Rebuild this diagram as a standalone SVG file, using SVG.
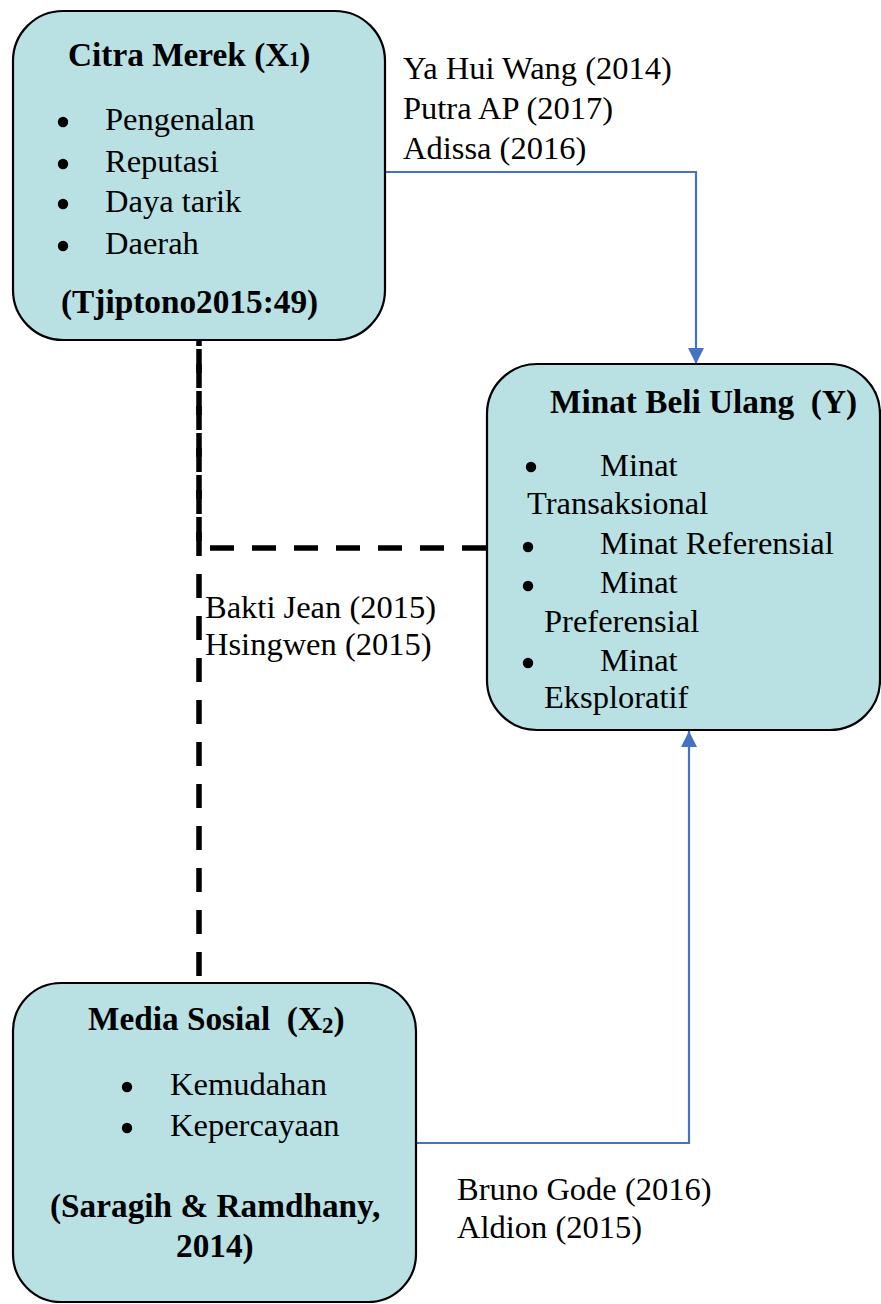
<svg xmlns="http://www.w3.org/2000/svg" width="881" height="1304" viewBox="0 0 881 1304">
<style>
.box{fill:#b9e0e3;stroke:#000;stroke-width:2.2}
.t{font-family:"Liberation Serif","Times New Roman",serif;font-size:32.5px;fill:#000}
.b{font-weight:bold;font-size:33.3px}
.blt{fill:#000}
.blue{fill:none;stroke:#4472c4;stroke-width:2.2}
.dash{fill:none;stroke:#000;stroke-width:5.5;stroke-dasharray:24 18}
</style>
<defs>
<marker id="ah" viewBox="0 0 16 16" refX="16" refY="8" markerWidth="16" markerHeight="16" markerUnits="userSpaceOnUse" orient="auto">
<path d="M0,0 L16,8 L0,16 Z" fill="#4472c4"/>
</marker>
</defs>
<g id="connectors">
<path class="dash" d="M199,340 L199,983" stroke-dashoffset="18"/>
<path class="dash" d="M486,548 L199,548 L199,340"/>
<path class="blue" d="M385,172 L696,172 L696,364" marker-end="url(#ah)"/>
<path class="blue" d="M417,1143 L689,1143 L689,731" marker-end="url(#ah)"/>
</g>
<g id="citra-merek">
<rect class="box" x="13" y="11" width="372" height="329" rx="50"/>
<text class="t b" x="68" y="66">Citra Merek (X<tspan font-size="20">1</tspan>)</text>
<circle class="blt" cx="63" cy="122" r="5.2"/>
<circle class="blt" cx="63" cy="164" r="5.2"/>
<circle class="blt" cx="63" cy="204" r="5.2"/>
<circle class="blt" cx="63" cy="246" r="5.2"/>
<text class="t" x="105" y="130">Pengenalan</text>
<text class="t" x="105" y="172">Reputasi</text>
<text class="t" x="105" y="212">Daya tarik</text>
<text class="t" x="105" y="254">Daerah</text>
<text class="t b" x="61" y="313">(Tjiptono2015:49)</text>
</g>
<g id="minat-beli-ulang">
<rect class="box" x="487" y="364" width="393" height="366" rx="50"/>
<text class="t b" x="550" y="413" style="white-space:pre">Minat Beli Ulang  (Y)</text>
<circle class="blt" cx="531" cy="467" r="5.2"/>
<circle class="blt" cx="528" cy="547" r="5.2"/>
<circle class="blt" cx="528" cy="586" r="5.2"/>
<circle class="blt" cx="528" cy="663" r="5.2"/>
<text class="t" x="600" y="476">Minat</text>
<text class="t" x="527" y="514">Transaksional</text>
<text class="t" x="600" y="554">Minat Referensial</text>
<text class="t" x="600" y="593">Minat</text>
<text class="t" x="544" y="632">Preferensial</text>
<text class="t" x="600" y="671">Minat</text>
<text class="t" x="544" y="708">Eksploratif</text>
</g>
<g id="media-sosial">
<rect class="box" x="13" y="983" width="403" height="319" rx="48"/>
<text class="t b" x="88" y="1030" style="white-space:pre">Media Sosial  (X<tspan font-size="23" dy="3">2</tspan><tspan dy="-3">)</tspan></text>
<circle class="blt" cx="127" cy="1087" r="5.2"/>
<circle class="blt" cx="127" cy="1128" r="5.2"/>
<text class="t" x="170" y="1095">Kemudahan</text>
<text class="t" x="170" y="1136">Kepercayaan</text>
<text class="t b" x="50" y="1217">(Saragih &amp; Ramdhany,</text>
<text class="t b" x="176" y="1257">2014)</text>
</g>
<g id="labels">
<text class="t" x="403" y="79">Ya Hui Wang (2014)</text>
<text class="t" x="403" y="119">Putra AP (2017)</text>
<text class="t" x="403" y="159">Adissa (2016)</text>
<text class="t" x="205" y="618">Bakti Jean (2015)</text>
<text class="t" x="205" y="655">Hsingwen (2015)</text>
<text class="t" x="457" y="1200">Bruno Gode (2016)</text>
<text class="t" x="457" y="1238">Aldion (2015)</text>
</g>
</svg>
